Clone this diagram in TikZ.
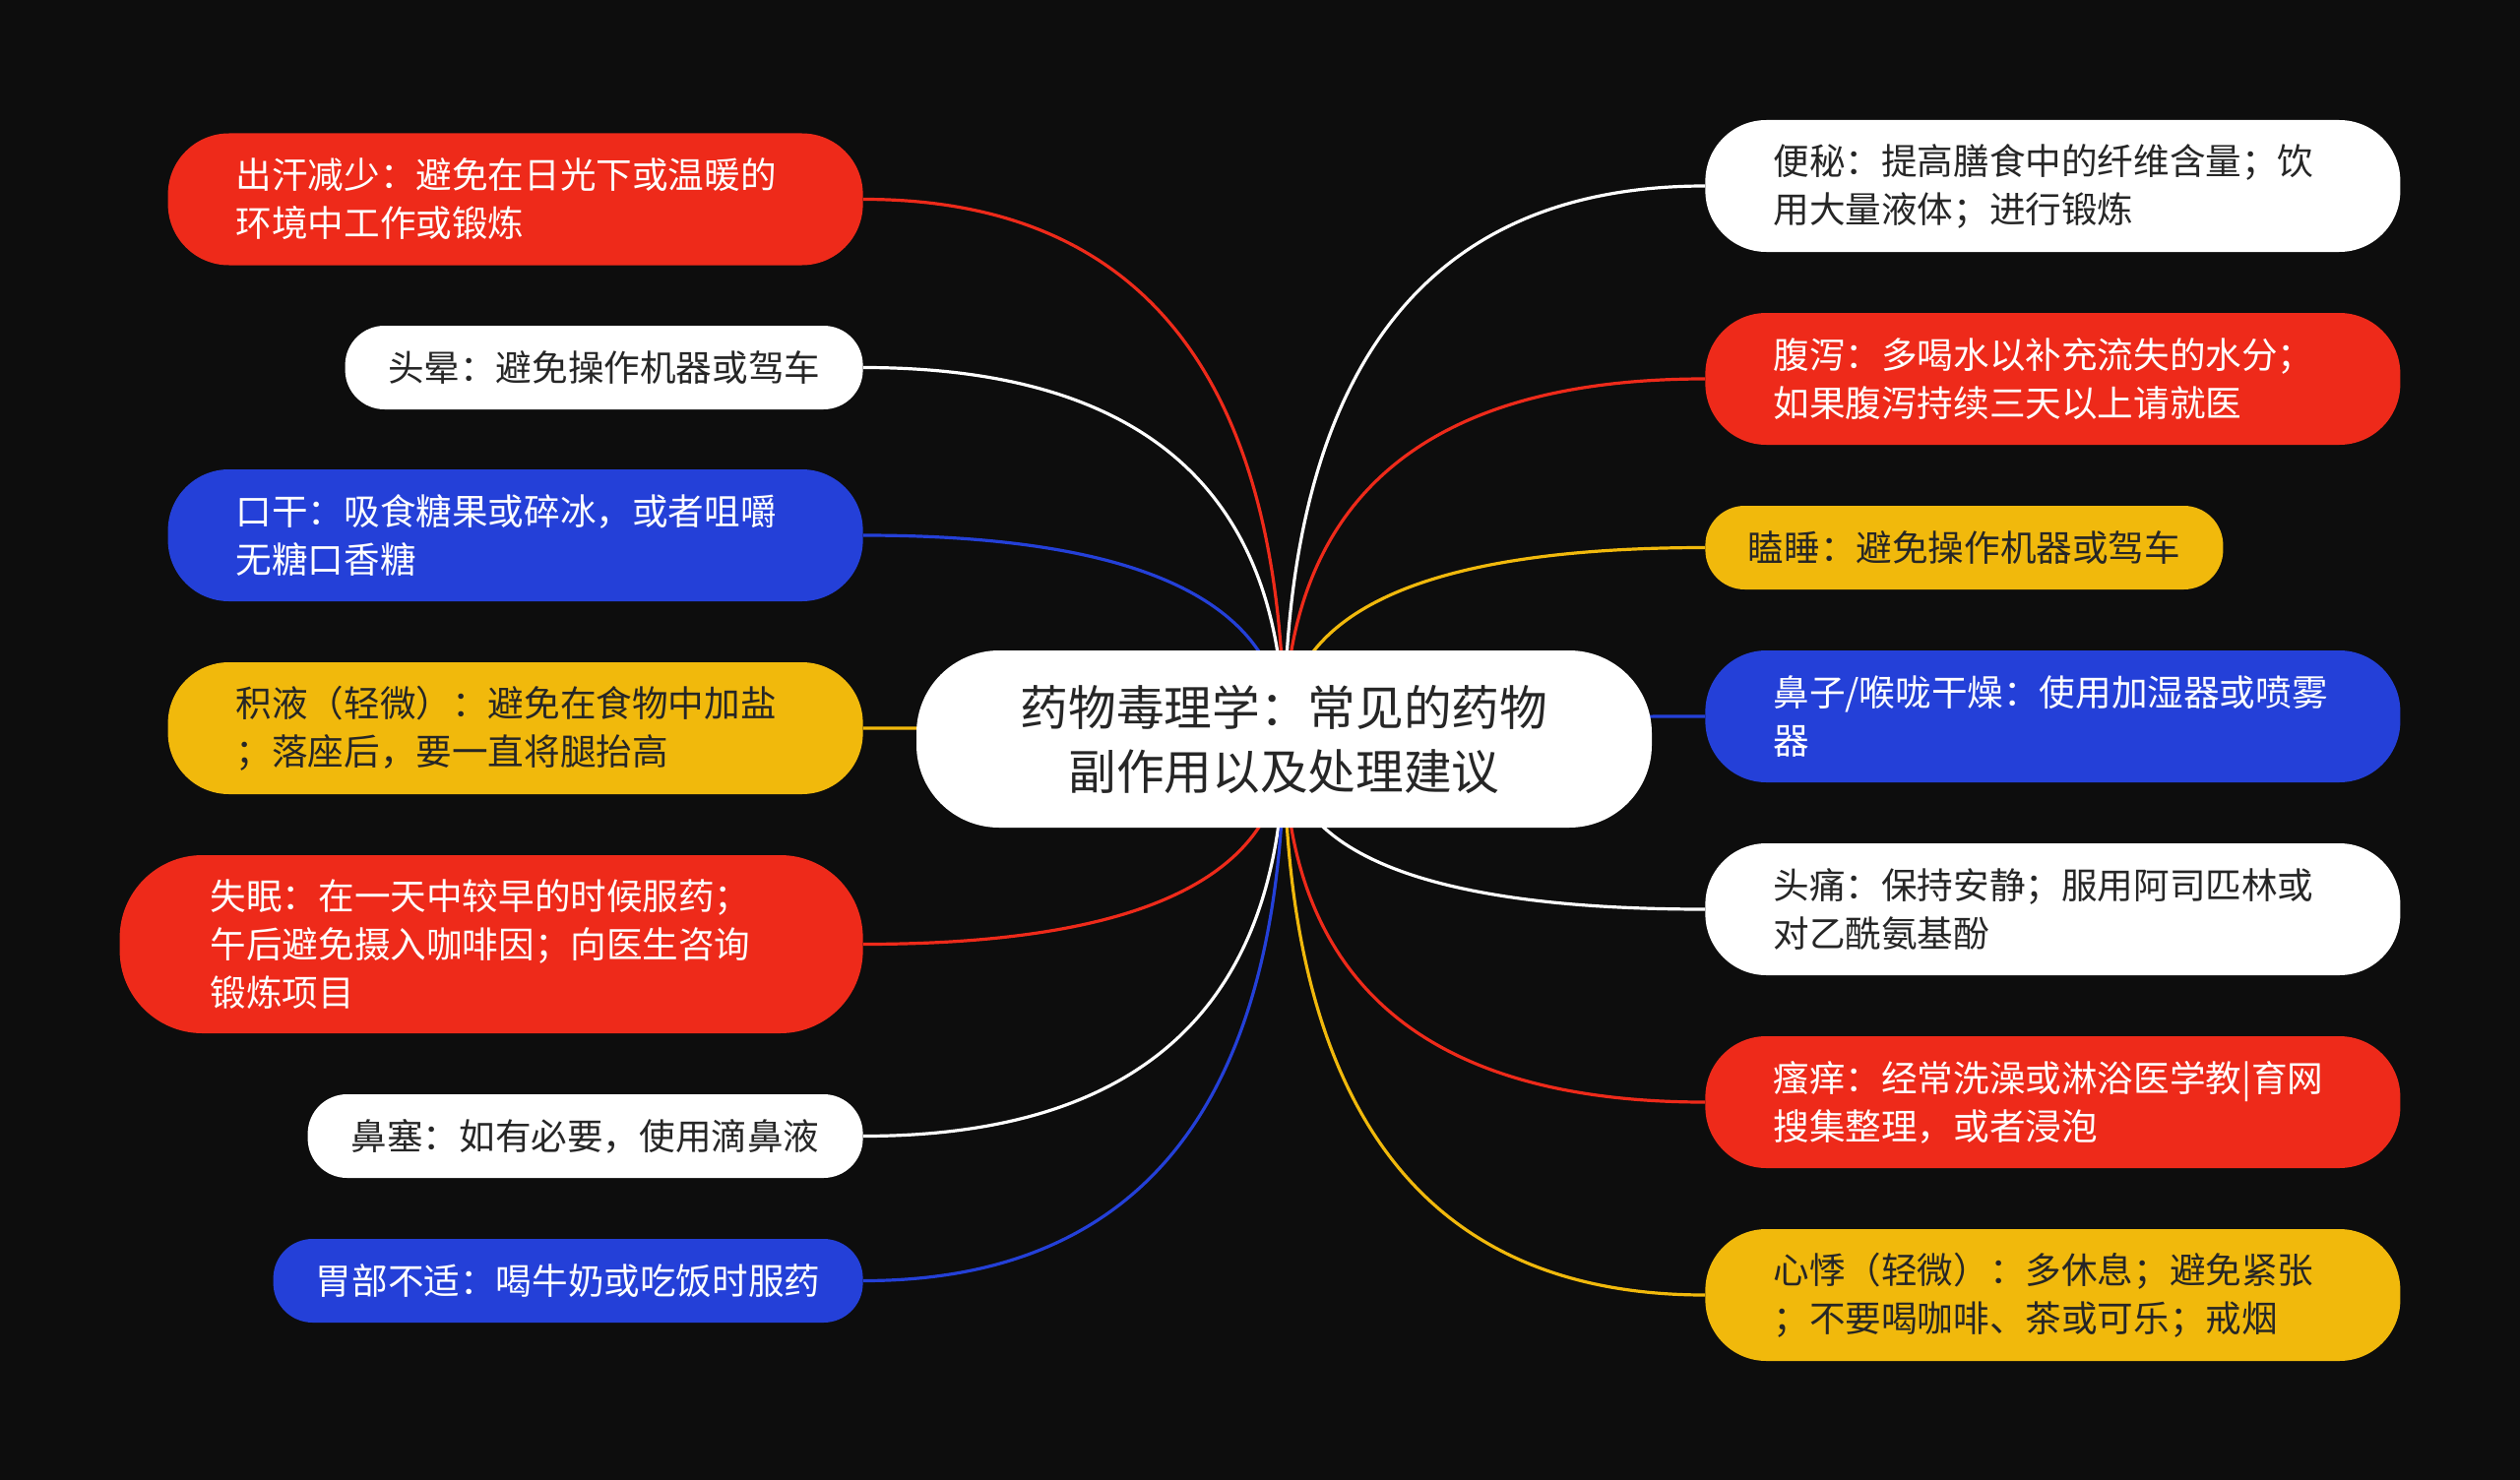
\documentclass[tikz,border=0pt]{standalone}
\usepackage{fontspec}
\setmainfont{Noto Sans CJK SC}
\usetikzlibrary{calc}
\pgfdeclarelayer{bgfill}
\pgfdeclarelayer{edges}
\pgfsetlayers{bgfill,edges,main}
\definecolor{bgc}{RGB}{13,13,13}
\definecolor{mred}{RGB}{238,42,26}
\definecolor{mblue}{RGB}{36,64,216}
\definecolor{myel}{RGB}{241,185,12}
\definecolor{dtext}{RGB}{38,38,38}
\tikzset{
  box/.style={rectangle, inner ysep=0pt, font=\fontsize{18.3}{24.5}\selectfont},
  multi/.style={box, minimum height=67pt, rounded corners=31pt, inner xsep=34.5pt, text width=284pt, align=left},
  triple/.style={box, minimum height=90.5pt, rounded corners=42pt, inner xsep=46pt, text width=285.5pt, align=left},
  single/.style={box, minimum height=42.5pt, rounded corners=20pt, inner xsep=0pt, align=center},
  redbox/.style={fill=mred, text=white},
  bluebox/.style={fill=mblue, text=white},
  whitebox/.style={fill=white, text=dtext},
  yelbox/.style={fill=myel, text=dtext},
  link/.style={line width=1.6pt},
}
\newcommand\mmlink[3]{%
  \draw[link,#3] (#1.center) .. controls ($(#1.center)!0.6667!(#1.center |- #2)$) and ($(#2)!0.6667!(#1.center |- #2)$) .. (#2);}
\begin{document}
\begin{tikzpicture}[x=0.5pt,y=-0.5pt]
\path[use as bounding box] (0,0) rectangle (2560,1504);
\begin{pgfonlayer}{bgfill}
\fill[bgc] (0,0) rectangle (2560,1504);
\end{pgfonlayer}

% root
\node[box, whitebox, minimum width=373.5pt, minimum height=90pt, rounded corners=42pt, inner xsep=0pt, align=center,
      font=\fontsize{24.35}{32.5}\selectfont] (root) at (1304.5,751)
  {药物毒理学：常见的药物\\副作用以及处理建议};

% left
\node[multi, redbox, anchor=east] (l1) at (877,202.5) {出汗减少：避免在日光下或温暖的\\环境中工作或锻炼};
\node[single, whitebox, minimum width=263pt, anchor=east] (l2) at (877,373.5) {头晕：避免操作机器或驾车};
\node[multi, bluebox, anchor=east] (l3) at (877,544) {口干：吸食糖果或碎冰，或者咀嚼\\无糖口香糖};
\node[multi, yelbox, anchor=east] (l4) at (877,740) {积液（轻微）：避免在食物中加盐\\；落座后，要一直将腿抬高};
\node[triple, redbox, anchor=east] (l5) at (877,959.5) {失眠：在一天中较早的时候服药；\\午后避免摄入咖啡因；向医生咨询\\锻炼项目};
\node[single, whitebox, minimum width=282pt, anchor=east] (l6) at (877,1154.5) {鼻塞：如有必要，使用滴鼻液};
\node[single, bluebox, minimum width=299.5pt, anchor=east] (l7) at (877,1301.5) {胃部不适：喝牛奶或吃饭时服药};

% right
\node[multi, whitebox, anchor=west] (r1) at (1732,189) {便秘：提高膳食中的纤维含量；饮\\用大量液体；进行锻炼};
\node[multi, redbox, anchor=west] (r2) at (1732,385) {腹泻：多喝水以补充流失的水分；\\如果腹泻持续三天以上请就医};
\node[single, yelbox, minimum width=263pt, anchor=west] (r3) at (1732,556.5) {瞌睡：避免操作机器或驾车};
\node[multi, bluebox, anchor=west] (r4) at (1732,728) {鼻子/喉咙干燥：使用加湿器或喷雾\\器};
\node[multi, whitebox, anchor=west] (r5) at (1732,924) {头痛：保持安静；服用阿司匹林或\\对乙酰氨基酚};
\node[multi, redbox, anchor=west] (r6) at (1732,1120) {瘙痒：经常洗澡或淋浴医学教|育网\\搜集整理，或者浸泡};
\node[multi, yelbox, anchor=west] (r7) at (1732,1316) {心悸（轻微）：多休息；避免紧张\\；不要喝咖啡、茶或可乐；戒烟};

\begin{pgfonlayer}{edges}
\mmlink{root}{l1.east}{mred}
\mmlink{root}{l2.east}{white}
\mmlink{root}{l3.east}{mblue}
\mmlink{root}{l4.east}{myel}
\mmlink{root}{l5.east}{mred}
\mmlink{root}{l6.east}{white}
\mmlink{root}{l7.east}{mblue}
\mmlink{root}{r1.west}{white}
\mmlink{root}{r2.west}{mred}
\mmlink{root}{r3.west}{myel}
\mmlink{root}{r4.west}{mblue}
\mmlink{root}{r5.west}{white}
\mmlink{root}{r6.west}{mred}
\mmlink{root}{r7.west}{myel}
\end{pgfonlayer}
\end{tikzpicture}
\end{document}
